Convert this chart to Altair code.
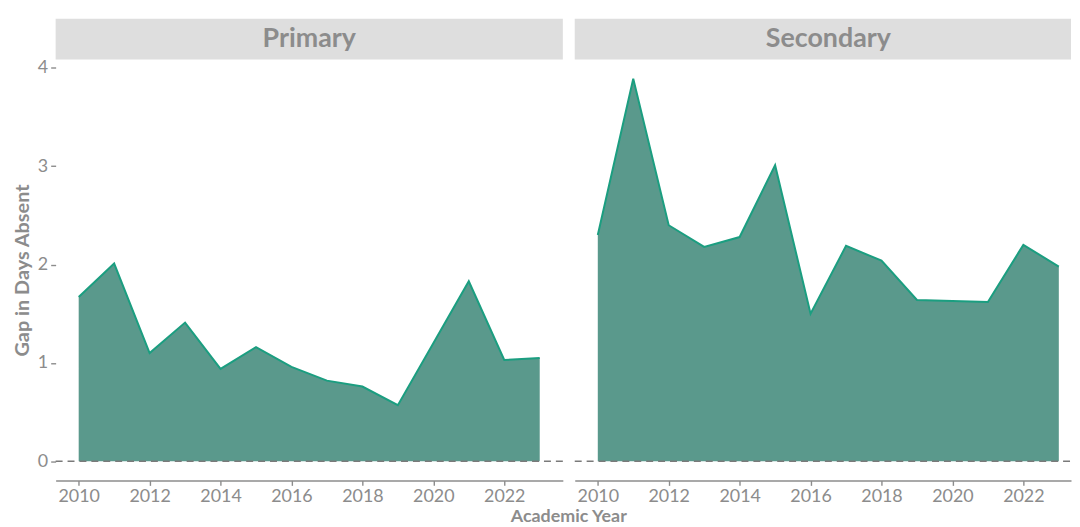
import altair as alt
import pandas as pd

years = list(range(2010, 2024))
primary = [1.67, 2.01, 1.10, 1.41, 0.94, 1.16, 0.96, 0.82, 0.76, 0.57, 1.20, 1.83, 1.03, 1.05]
secondary = [2.30, 3.89, 2.40, 2.18, 2.28, 3.01, 1.50, 2.19, 2.04, 1.64, 1.63, 1.62, 2.20, 1.98]
phases = ["Primary", "Secondary"]
x_ticks = [2010, 2012, 2014, 2016, 2018, 2020, 2022]
y_ticks = [0, 1, 2, 3, 4]
x_title = "Academic Year"
y_title = "Gap in Days Absent"

FONT = "Lato"
GREY = "#8c8c8c"
FILL = "#5a998c"
LINE = "#1b9e80"
STRIP = "#dedede"

Y_DOM = [-0.1945, 4.0845]
PX_PER_YEAR = 35.73
X0 = 2009.35
FULL_W = 511
H = 424


def panel(name, vals, width, show_y, show_xtitle):
    df = pd.DataFrame({"year": years, "gap": vals})
    xdom = [X0, X0 + width / PX_PER_YEAR]
    xenc = alt.X(
        "year:Q",
        scale=alt.Scale(domain=xdom, nice=False, zero=False),
        axis=alt.Axis(values=x_ticks, format="d", title=None, grid=False,
                      domainColor=GREY, domainWidth=1.5, tickColor=GREY,
                      tickSize=5, tickWidth=1.4, labelColor=GREY, labelFontSize=18,
                      labelPadding=2, labelFont=FONT),
    )
    if show_y:
        yaxis = alt.Axis(values=y_ticks, format="d", title=y_title, grid=False, domain=False,
                         tickColor=GREY, tickSize=5, tickWidth=1.4, labelColor=GREY,
                         labelFontSize=18, labelPadding=3, labelFont=FONT,
                         titleColor=GREY, titleFontSize=20, titleFontWeight="bold",
                         titleFont=FONT, titlePadding=5)
    else:
        yaxis = None
    yenc = alt.Y("gap:Q", scale=alt.Scale(domain=Y_DOM, nice=False, zero=False), axis=yaxis)

    base = alt.Chart(df)
    area = base.mark_area(color=FILL, opacity=1).encode(x=xenc, y=yenc, y2=alt.datum(0))
    line = base.mark_line(color=LINE, strokeWidth=2).encode(x="year:Q", y="gap:Q")
    zero = alt.Chart(pd.DataFrame({"z": [0]})).mark_rule(
        color="#7a7a7a", strokeDash=[7, 5], strokeWidth=1.6
    ).encode(x=alt.value(0), x2=alt.value(width), y=alt.datum(0))
    strip = alt.Chart(pd.DataFrame({"p": [name]})).mark_rect(color=STRIP).encode(
        x=alt.value(0), x2=alt.value(width), y=alt.value(-41), y2=alt.value(0)
    )
    strip_text = alt.Chart(pd.DataFrame({"p": [name]})).mark_text(
        font=FONT, fontSize=27, fontWeight="bold", color=GREY, baseline="middle", align="center"
    ).encode(text="p:N", x=alt.value(FULL_W / 2), y=alt.value(-21))
    layers = [strip, strip_text, area, line, zero]
    if show_xtitle:
        t = alt.Chart(pd.DataFrame({"t": [x_title]})).mark_text(
            font=FONT, fontSize=18, fontWeight="bold", color=GREY, baseline="middle", align="center"
        ).encode(text="t:N", x=alt.value(517), y=alt.value(H + 37))
        layers.append(t)
    return alt.layer(*layers).properties(width=width, height=H)


left = panel(phases[0], primary, FULL_W, True, True)
right = panel(phases[1], secondary, 500, False, False)

chart = alt.hconcat(left, right, spacing=12, bounds="flush").properties(
    padding={"left": 4, "top": 9, "right": 0, "bottom": 0}
).configure(font=FONT).configure_view(stroke=None)

chart.save("out.html", embed_options={"renderer": "svg", "actions": False})
